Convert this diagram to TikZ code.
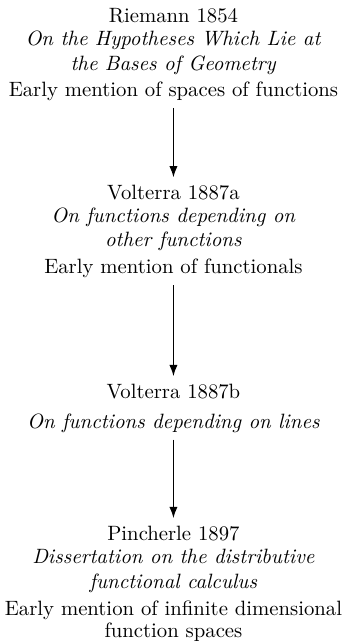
\documentclass[tikz,border=0pt]{standalone}
\usetikzlibrary{arrows.meta}

\begin{document}
\begin{tikzpicture}[x=1pt, y=1pt, every node/.style={align=center}, link/.style={thick, -{Latex[length=5.5pt,width=4pt]}}]
        \useasboundingbox (0,0) rectangle (167.5,-310.3);

        \node (riemann) at (83.7,-26.3) {Riemann 1854\\[-1pt] \textit{On the Hypotheses Which Lie at}\\ \textit{the Bases of Geometry}\\[0.5pt] Early mention of spaces of functions};
        \node (volterraA) at (83.7,-111.7) {Volterra 1887a\\[-1pt] \textit{On functions depending on}\\ \textit{other functions}\\[1pt] Early mention of functionals};
        \node (volterraB) at (83.7,-196.9) {Volterra 1887b\\[2.5pt] \textit{On functions depending on lines}};
        \node (pincherle) at (83.7,-281.6) {Pincherle 1897\\[-0.5pt] \textit{Dissertation on the distributive}\\ \textit{functional calculus}\\[1pt] Early mention of infinite dimensional\\[-1.5pt] function spaces};

        \draw[link] (riemann) -- (volterraA);
        \draw[link] (volterraA) -- (volterraB);
        \draw[link] (volterraB) -- (pincherle);
        \end{tikzpicture}
\end{document}
